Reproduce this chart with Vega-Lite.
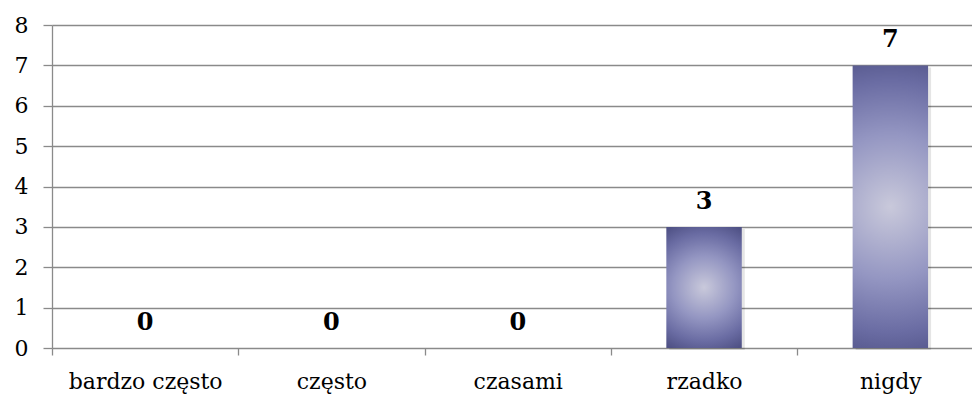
{
  "$schema": "https://vega.github.io/schema/vega-lite/v6.json",
  "autosize": "none",
  "padding": {"left": 52, "top": 25, "right": 0, "bottom": 46},
  "width": 920,
  "height": 323,
  "background": "white",
  "data": {"values": [
    {"kategoria": "bardzo często", "wartosc": 0},
    {"kategoria": "często", "wartosc": 0},
    {"kategoria": "czasami", "wartosc": 0},
    {"kategoria": "rzadko", "wartosc": 3},
    {"kategoria": "nigdy", "wartosc": 7}
  ]},
  "encoding": {
    "x": {"field": "kategoria", "type": "nominal", "sort": null,
      "scale": {"paddingInner": 0, "paddingOuter": 0, "range": [0, 931.5]},
      "axis": {"title": null, "labelAngle": 0, "labelFont": "DejaVu Serif", "labelFontSize": 22, "labelColor": "black",
        "tickBand": "extent", "tickSize": 7, "tickColor": "#8a8a8a", "tickWidth": 1.3,
        "domain": false, "labelPadding": 16}},
    "y": {"field": "wartosc", "type": "quantitative",
      "scale": {"domain": [0, 8], "nice": false},
      "axis": {"title": null, "values": [0,1,2,3,4,5,6,7,8], "labelOverlap": false, "labelFont": "DejaVu Serif", "labelFontSize": 22, "labelColor": "black",
        "tickSize": 9, "tickColor": "#8a8a8a", "tickWidth": 1.3, "gridColor": "#8a8a8a", "gridWidth": 1.3,
        "domainColor": "#8a8a8a", "domainWidth": 1.3, "labelPadding": 15}}
  },
  "layer": [
    {"mark": {"type": "bar", "width": {"band": 0.405}, "color": "#000000", "opacity": 0.1, "xOffset": 3, "yOffset": 2}},
    {"mark": {"type": "bar", "width": {"band": 0.405}, "color": {
      "gradient": "radial", "x1": 0.5, "y1": 0.5, "r1": 0, "x2": 0.5, "y2": 0.5, "r2": 0.57,
      "stops": [
        {"offset": 0, "color": "#c9c9db"},
        {"offset": 0.45, "color": "#9496c2"},
        {"offset": 0.78, "color": "#6a6ca3"},
        {"offset": 1, "color": "#4f5185"}
      ]}}},
    {"mark": {"type": "text", "font": "DejaVu Serif", "fontSize": 24, "fontWeight": "bold", "baseline": "alphabetic", "dy": -18, "color": "black"},
      "encoding": {"text": {"field": "wartosc", "type": "quantitative"}}}
  ],
  "config": {"view": {"stroke": null}}
}
